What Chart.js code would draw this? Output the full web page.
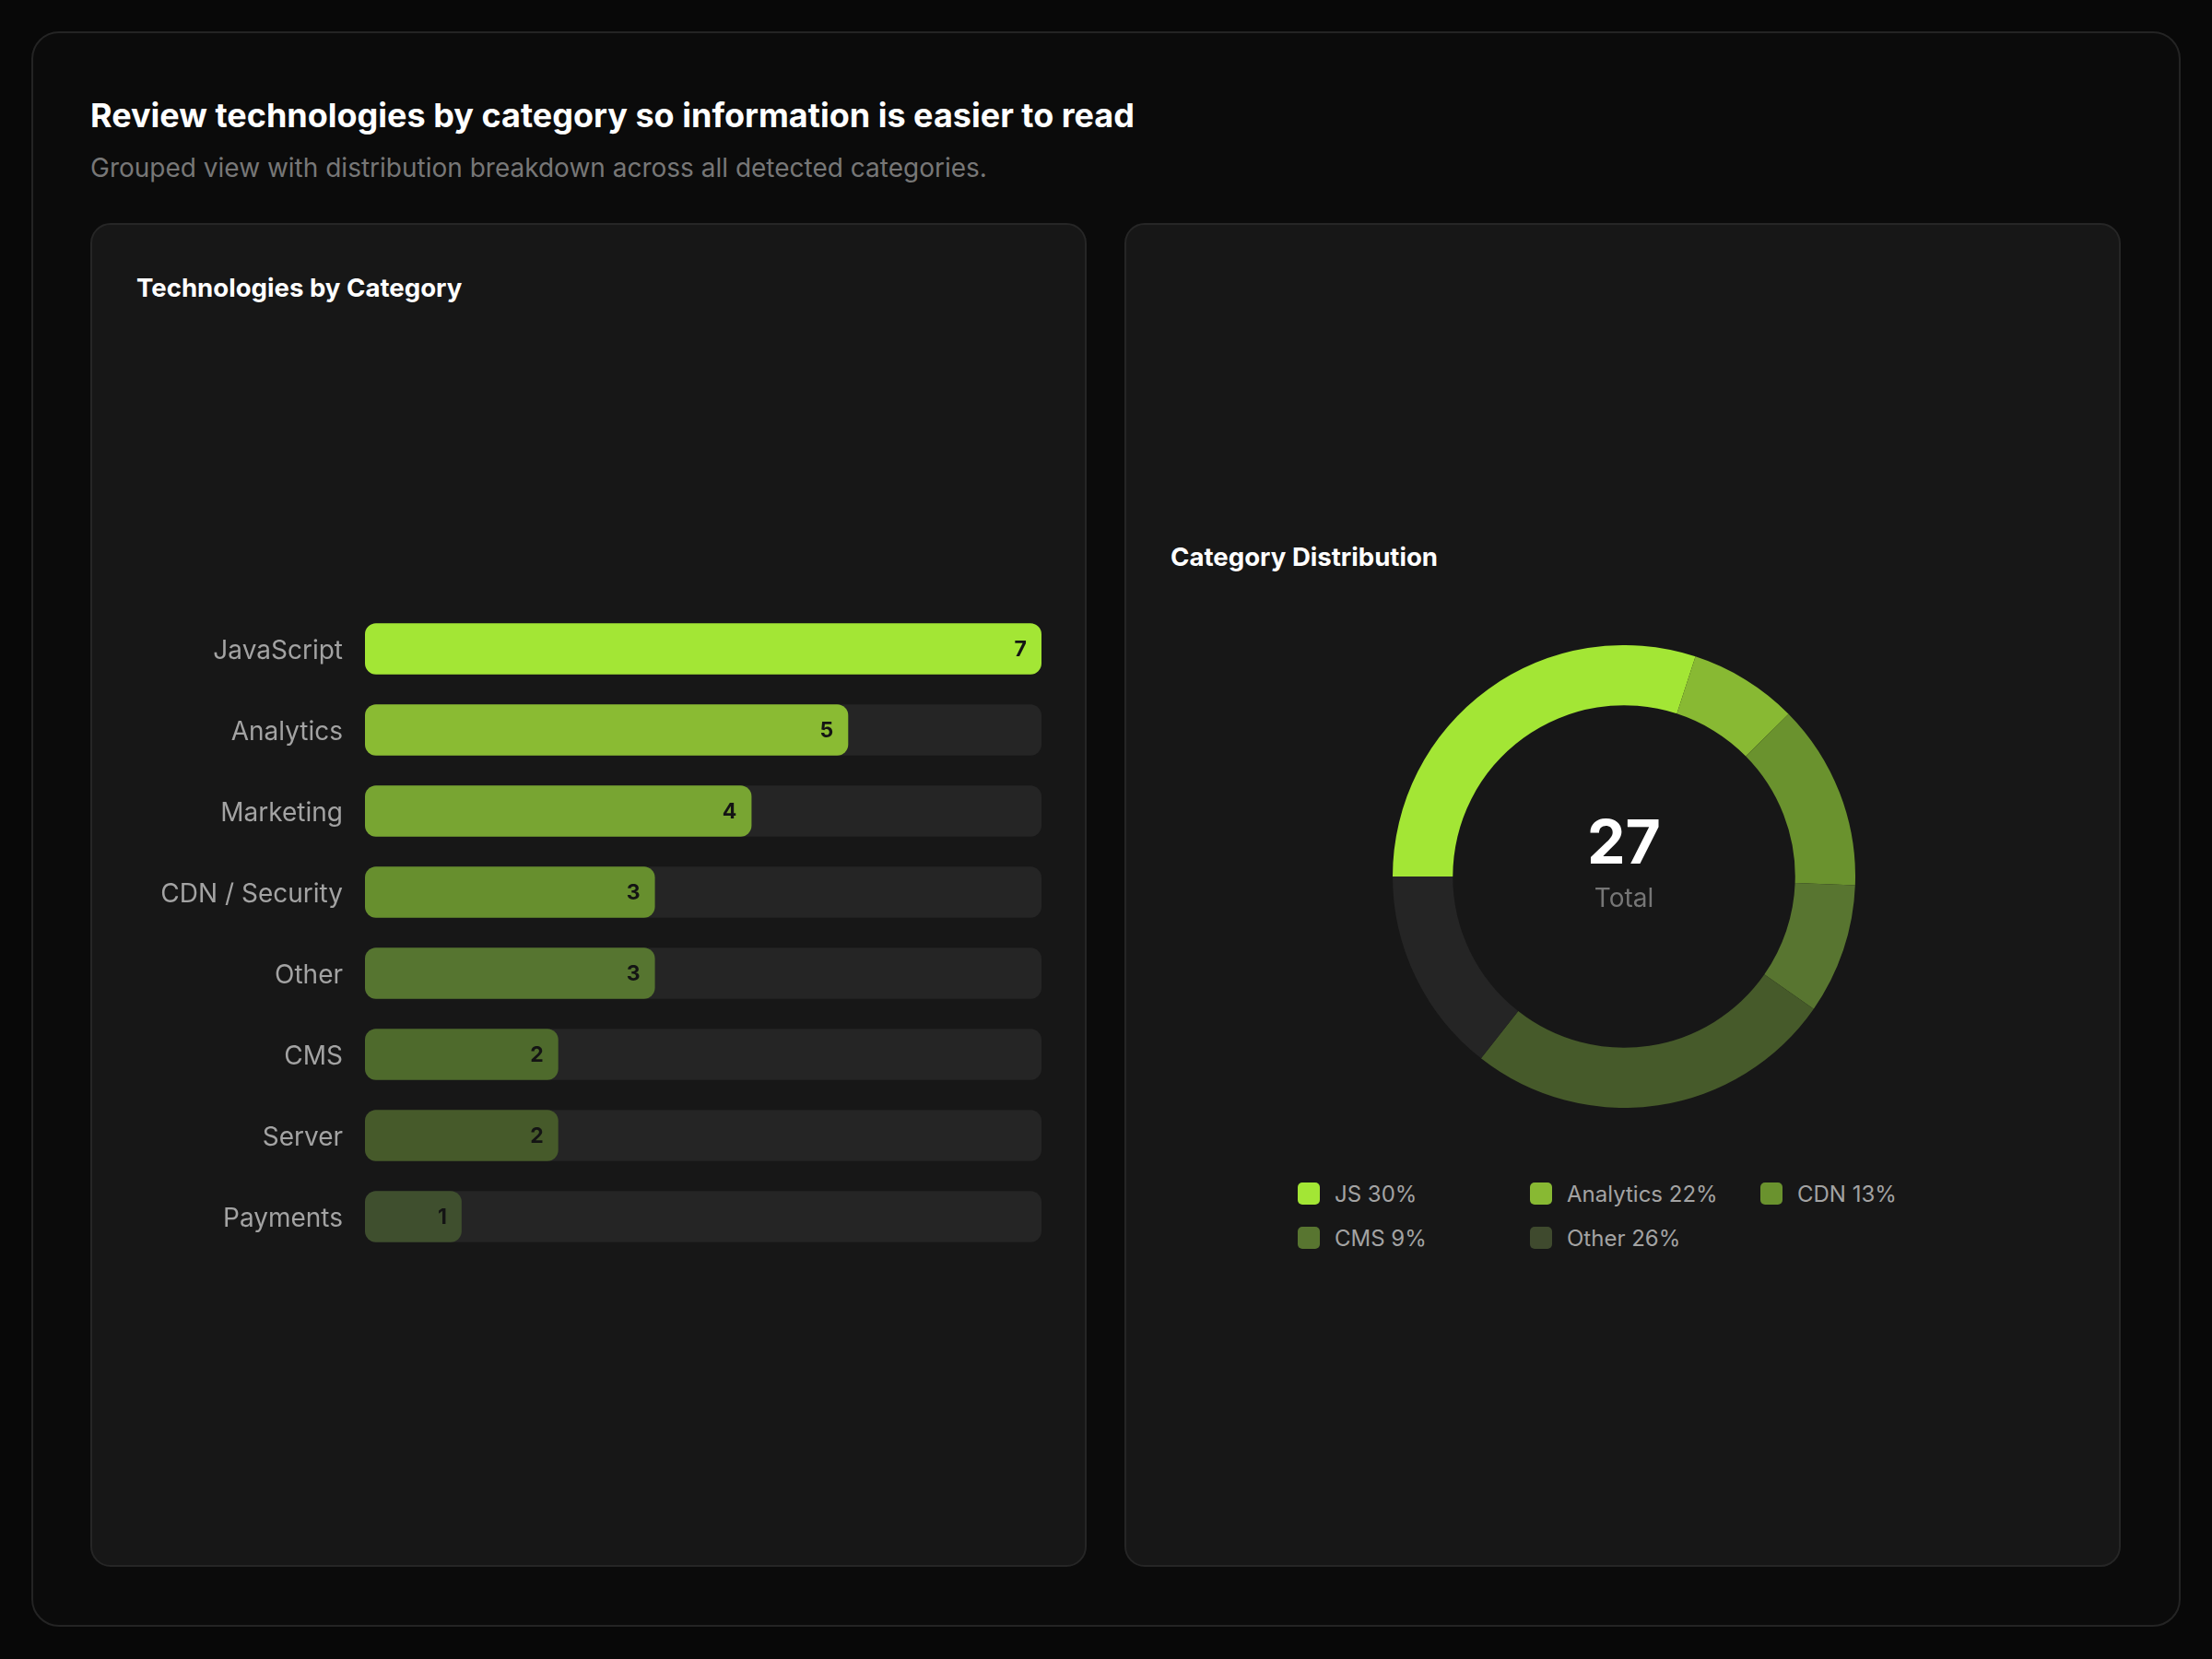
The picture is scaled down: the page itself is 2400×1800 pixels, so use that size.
<!DOCTYPE html>
<html>
<head>
<meta charset="utf-8">
<script src="https://cdn.jsdelivr.net/npm/chart.js@4.4.1/dist/chart.umd.min.js"></script>
<style>
    html, body { margin: 0; padding: 0; }
    body {
        width: 2400px; height: 1800px; background: #080808;
        font-family: Inter, "Noto Sans", sans-serif; position: relative; overflow: hidden;
    }
    .card {
        position: absolute; left: 34px; top: 34px; width: 2328px; height: 1727px;
        background: #0b0b0b; border: 2px solid #242424; border-radius: 30px;
    }
    .titulo {
        position: absolute; left: 98px; top: 103px; margin: 0;
        font-size: 36px; font-weight: 700; color: #fff; line-height: 44px; white-space: nowrap;
    }
    .subtitulo {
        position: absolute; left: 98px; top: 164px; margin: 0;
        font-size: 28px; color: #777; line-height: 36px; white-space: nowrap;
    }
    .painel {
        position: absolute; top: 242px; width: 1077px; height: 1454px;
        background: #171717; border: 2px solid #262626; border-radius: 22px;
    }
    .painel h3 {
        position: absolute; margin: 0; font-size: 27.6px; font-weight: 700; color: #fff;
        line-height: 34px; white-space: nowrap;
    }
    .box { position: absolute; }
    #legenda { position: absolute; left: 0; top: 0; }
    .item {
        position: absolute; display: flex; align-items: center; height: 34px;
        font-size: 24px; color: #a3a3a3; white-space: nowrap;
    }
    .item span.cor { width: 24px; height: 24px; border-radius: 5px; margin-right: 16px; }
</style>
</head>
<body>
<div class="card"></div>
<h1 class="titulo">Review technologies by category so information is easier to read</h1>
<p class="subtitulo">Grouped view with distribution breakdown across all detected categories.</p>

<div class="painel" style="left:98px;"><h3 style="left:48px; top:51px;">Technologies by Category</h3></div>
<div class="painel" style="left:1220px;"><h3 style="left:48px; top:343px;">Category Distribution</h3></div>

<div class="box" style="left:120px; top:660px; width:1010px; height:704px;"><canvas id="graficoCategorias"></canvas></div>
<div class="box" style="left:1511px; top:700px; width:502px; height:502px;"><canvas id="graficoDistribuicao"></canvas></div>
<div id="legenda"></div>

<script>
// barras
const categorias = ["JavaScript", "Analytics", "Marketing", "CDN / Security", "Other", "CMS", "Server", "Payments"];
const valores = [7, 5, 4, 3, 3, 2, 2, 1];
const coresBarras = ["#a3e635", "#8abb33", "#78a532", "#678f2e", "#567530", "#4e6a2c", "#465a2a", "#3f4f2e"];

// donut (fatias como aparecem no desenho, em %)
const fatias = ["JS", "Analytics", "CDN", "CMS", "Other", "Rest"];
const valoresFatias = [30, 7.6, 13, 9.1, 25.9, 14.4];
const coresFatias = ["#a3e635", "#88b933", "#6a922e", "#587530", "#465a2a", "#252525"];

// legenda
const legendaNomes = ["JS", "Analytics", "CDN", "CMS", "Other"];
const legendaPct = [30, 22, 13, 9, 26];
const legendaCores = ["#a3e635", "#88b933", "#6a922e", "#587530", "#3f4a2e"];

const maxValor = Math.max(...valores);
const total = valores.reduce((a, b) => a + b, 0);

const pluginValores = {
    id: "valores",
    afterDatasetsDraw(chart) {
        const ctx = chart.ctx;
        const meta = chart.getDatasetMeta(1);
        ctx.save();
        ctx.font = "700 23px Inter";
        ctx.fillStyle = "#141414";
        ctx.textAlign = "right";
        ctx.textBaseline = "middle";
        meta.data.forEach((bar, i) => {
            ctx.fillText(String(valores[i]), bar.x - 16, bar.y + 1);
        });
        ctx.restore();
    }
};

const pluginCentro = {
    id: "centro",
    afterDraw(chart) {
        const ctx = chart.ctx;
        const cx = (chart.chartArea.left + chart.chartArea.right) / 2;
        const cy = (chart.chartArea.top + chart.chartArea.bottom) / 2;
        ctx.save();
        ctx.textAlign = "center";
        ctx.textBaseline = "middle";
        ctx.fillStyle = "#ffffff";
        ctx.font = "700 66px Inter";
        ctx.fillText(String(total), cx, cy - 34);
        ctx.fillStyle = "#767676";
        ctx.font = "400 28px Inter";
        ctx.fillText("Total", cx, cy + 25);
        ctx.restore();
    }
};

function gerarGraficoBarras() {
    const ctx = document.getElementById("graficoCategorias").getContext("2d");
    new Chart(ctx, {
        type: "bar",
        data: {
            labels: categorias,
            datasets: [
                {
                    data: categorias.map(() => maxValor),
                    backgroundColor: "#252525",
                    borderRadius: 12,
                    borderSkipped: false,
                    grouped: false,
                    order: 2,
                    categoryPercentage: 1,
                    barPercentage: 0.63
                },
                {
                    data: valores,
                    backgroundColor: coresBarras,
                    borderRadius: 12,
                    borderSkipped: false,
                    grouped: false,
                    order: 1,
                    categoryPercentage: 1,
                    barPercentage: 0.63
                }
            ]
        },
        options: {
            indexAxis: "y",
            responsive: true,
            maintainAspectRatio: false,
            animation: false,
            layout: { padding: 0 },
            plugins: { legend: { display: false }, tooltip: { enabled: false } },
            scales: {
                x: { display: false, min: 0, max: maxValor },
                y: {
                    afterFit: (scale) => {
                        scale.width = 276;
                        scale.paddingTop = 0;
                        scale.paddingBottom = 0;
                    },
                    grid: { display: false, drawTicks: false },
                    border: { display: false },
                    ticks: { color: "#a3a3a3", font: { family: "Inter", size: 28 }, padding: 24, labelOffset: 3 }
                }
            }
        },
        plugins: [pluginValores]
    });
}

function gerarGraficoDonut() {
    const ctx = document.getElementById("graficoDistribuicao").getContext("2d");
    new Chart(ctx, {
        type: "doughnut",
        data: {
            labels: fatias,
            datasets: [{
                data: valoresFatias,
                backgroundColor: coresFatias,
                borderWidth: 0
            }]
        },
        options: {
            responsive: true,
            maintainAspectRatio: false,
            animation: false,
            cutout: "74%",
            rotation: -90,
            layout: { padding: 0 },
            plugins: { legend: { display: false }, tooltip: { enabled: false } }
        },
        plugins: [pluginCentro]
    });
}

function gerarLegenda() {
    const colunas = [1408, 1660, 1910];
    const linhas = [1278, 1326];
    const el = document.getElementById("legenda");
    legendaNomes.forEach((nome, i) => {
        const item = document.createElement("div");
        item.className = "item";
        item.style.left = colunas[i % 3] + "px";
        item.style.top = linhas[Math.floor(i / 3)] + "px";
        item.innerHTML = `<span class="cor" style="background:${legendaCores[i]}"></span>${nome} ${legendaPct[i]}%`;
        el.appendChild(item);
    });
}

addEventListener("DOMContentLoaded", () => {
    gerarGraficoBarras();
    gerarGraficoDonut();
    gerarLegenda();
});
</script>
</body>
</html>
